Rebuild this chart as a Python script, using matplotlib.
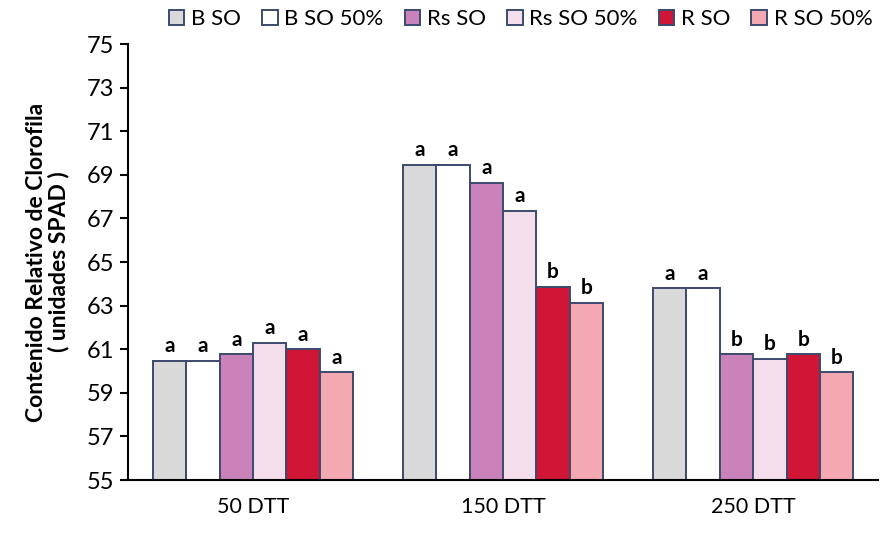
import matplotlib.pyplot as plt
import numpy as np

plt.rcParams['font.family'] = ['Lato', 'DejaVu Sans']

# data
groups = ['50 DTT', '150 DTT', '250 DTT']
series = ['B SO', 'B SO 50%', 'Rs SO', 'Rs SO 50%', 'R SO', 'R SO 50%']
values = [
    [60.47, 69.46, 63.80],   # B SO
    [60.47, 69.46, 63.80],   # B SO 50%
    [60.77, 68.64, 60.77],   # Rs SO
    [61.30, 67.35, 60.56],   # Rs SO 50%
    [61.00, 63.87, 60.77],   # R SO
    [59.94, 63.13, 59.94],   # R SO 50%
]
letters = [
    ['a', 'a', 'a'],
    ['a', 'a', 'a'],
    ['a', 'a', 'b'],
    ['a', 'a', 'b'],
    ['a', 'b', 'b'],
    ['a', 'b', 'b'],
]
colors = ['#D9D9D9', '#FFFFFF', '#C983BA', '#F4DEEC', '#D11536', '#F4A9B2']
edge = '#3C4A6E'

fig = plt.figure(figsize=(8.88, 5.33), dpi=100)
ax = fig.add_axes([0.144, 0.0994, 0.845, 0.818])

x = np.arange(len(groups))
w = 0.8 / len(series)
for i, name in enumerate(series):
    pos = x - 0.4 + w * (i + 0.5)
    bars = ax.bar(pos, np.array(values[i]) - 55, bottom=55, width=w,
                  color=colors[i], edgecolor=edge, linewidth=1.4, label=name)
    for b, v, lt in zip(bars, values[i], letters[i]):
        ax.text(b.get_x() + b.get_width() / 2, v + 0.2, lt, ha='center', va='bottom',
                fontsize=15, fontweight='bold')

ax.set_xlim(-0.5, 2.5)
ax.set_ylim(55, 75)
ax.set_yticks(np.arange(55, 76, 2))
ax.set_xticks(x)
ax.set_xticklabels(groups, fontsize=15.5)
ax.tick_params(axis='x', length=0, pad=12)
ax.tick_params(axis='y', labelsize=17, length=6, width=1.5, pad=4)
ax.spines['top'].set_visible(False)
ax.spines['right'].set_visible(False)
ax.spines['left'].set_linewidth(1.5)
ax.spines['bottom'].set_linewidth(1.5)

ax.set_ylabel('Contenido Relativo de Clorofila\n( unidades SPAD )', fontsize=16.5,
              fontweight='bold', labelpad=12, linespacing=1.05)

fig.legend(loc='upper right', bbox_to_anchor=(1.0, 1.012), ncol=6, frameon=False,
           fontsize=16, handlelength=0.7, handleheight=0.7, handletextpad=0.3,
           columnspacing=0.95, borderaxespad=0.3)

plt.savefig('out.png', dpi=100)
